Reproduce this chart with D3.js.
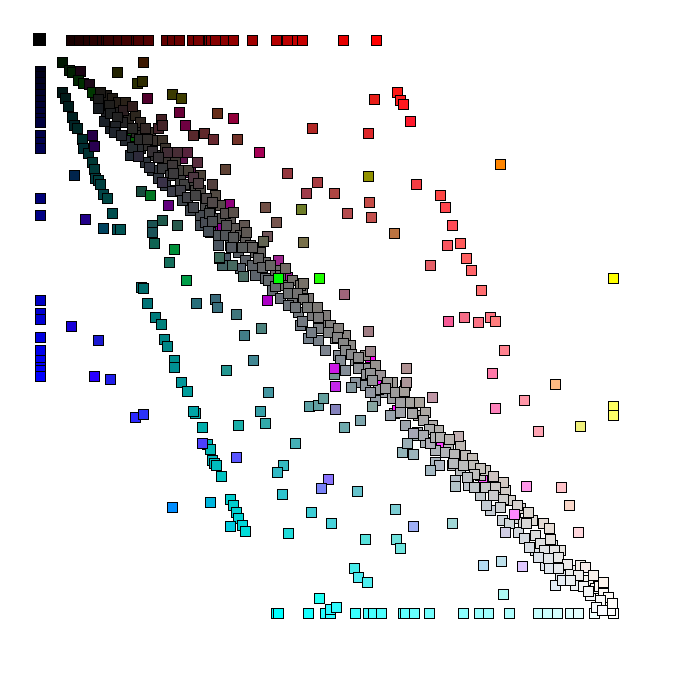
<!DOCTYPE html>
<html><head><meta charset="utf-8">
<script src="https://cdn.jsdelivr.net/npm/d3@7"></script>
<style>html,body{margin:0;padding:0;background:#fff}svg{display:block}</style>
</head><body><div id="chart"></div>
<script>
// Values. x and y are the two projected axes (0..573);
// green is the third colour channel of each square.
const blackX=[-2,0,-2,0], blackY=[-2,-2,0,0];
const topRowX=[31,39,48,54,62,66,68,78,86,96,98,108,126,132,139,152,158,169,171,175,185,193,212,236,247,257,262,303,336];
const leftColumnY=[31,36,42,48,54,60,66,72,78,82,95,102,108,158,175,260,273,279,297,310,320,327,330,336];
const bottomRowX=[236,238,268,285,290,315,328,333,341,363,365,374,389,423,439,448,469,498,507,517,530,538,554,573];

const strandX=[22,29,32,40,38,43,49,55,52, 22,25,28,32,34,37,42,43,48,52,54,55,58,60,63,67];
const strandY=[22,30,32,31,40,43,44,55,52, 52,58,66,77,85,88,99,108,113,122,129,138,140,144,154,158];
const strandG=[24,28,33,5,40,46,10,40,55, 24,27,30,34,36,40,45,46,51,56,58,59,62,64,67,72];

const tealX=[101,103,107,115,121,124,127,134,134,141,147,155,153,162,167,170,172,174,176,181,190,193,196,198,202,205];
const tealY=[247,248,263,277,284,299,306,320,327,342,351,373,371,387,404,409,420,423,425,436,459,465,472,478,485,491];
const tealG=[108,110,115,123,129,133,136,143,143,150,157,165,163,173,178,182,183,186,188,194,204,207,210,212,216,220];

const underX=[92,77,128,142,150,178,182,189,238,247,330,336,354,357,401,443,294];
const underY=[96,69,112,118,132,188,186,164,220,237,317,340,373,370,403,439,334];
const underG=[97,78,10,20,30,0,0,0,35,30,0,10,160,15,60,80,150];

const packX=[62,66,72,78,66,85,74,88,82,70,95,100,85,96,102,110,90,100,108,115,122,105,115,125,128,112,122,135,130,138,118,125,140,148,150,136,160,142,155,160,150,165,175,160,170,180,160,175,182,170,178,190,185,195,178,200,190,205,198,210,185,215,205,200,212,220,225,215,235,225,240,232,242,252,240,252,262,248,258,268,272,260,285,282,268,290,278,295,285,305,298,310,315,305,325,325,315,335,340,325,342,352,335,352,365,360,370,350,378,365,385,375,392,385,398,395,408,395,420,412,425,420,432,415,440,428,445,452,440,458,465,450,470,475,462,480,492,478,495,512,520,505,520,530,515,540,535,548,550,555,565,570];
const packY=[60,55,58,62,72,62,72,78,82,88,75,82,100,92,95,92,115,108,105,100,100,122,115,108,118,130,128,122,135,130,138,145,140,130,145,150,135,160,150,150,170,165,155,175,170,165,185,178,178,192,195,180,195,188,205,195,205,200,212,205,218,212,220,228,225,212,222,235,230,238,235,250,245,240,258,258,252,265,272,258,275,285,275,285,298,285,300,298,310,295,315,305,320,330,315,328,342,325,335,345,352,342,360,358,345,372,362,375,375,385,372,395,385,402,390,410,405,422,405,425,415,430,418,440,435,445,430,440,455,450,450,470,460,478,480,468,480,492,510,505,510,525,535,530,545,525,545,540,555,548,560,570];
const packG=[27,27,29,31,30,33,32,37,36,35,38,40,41,42,44,45,45,46,47,47,49,50,51,52,54,53,55,57,58,60,56,60,62,62,66,63,66,67,68,69,71,73,73,74,75,76,77,78,80,80,83,82,84,85,85,88,88,90,91,92,89,95,94,95,97,96,100,100,103,103,105,107,108,109,110,113,114,114,118,116,121,121,124,126,126,128,128,131,131,133,136,137,141,141,142,145,146,146,147,149,154,154,154,158,158,161,163,161,167,167,168,171,172,175,175,179,181,182,183,186,187,189,189,190,195,194,195,198,199,202,203,204,207,212,209,210,216,215,223,226,229,228,234,236,235,236,240,242,245,245,250,253];

const greyX=[60,58,58,69,64,70,83,92,77,75,74,81,92,105,118,121,122,92,99,107,127,137,147,98,112,118,109,132,133,122,132,144,153,158,157,172,140,147,153,155,166,172,165,168,169,172,185,186,193,193,191,204,206,202,212,227,223,218,222,230,245,182,179,192,228,235,260,263,248,248,257,263,255,267,277,278,262,278,271,288,298,297,303,305,311,300,318,318,326,330,347,338,330,332,345,355,360,364,372,379,383,377,373,389,383,390,395,400,418,409,405,414,413,423,399,433,440,434,427,453,463,434,445,455,446,453,463,460,477,488,469,483,486,495,503,509,484,510,500,489,504,514,498,508,518,527,509,518,545,538,553,522,530,543,548,559,563,563,568,560,572,556,562];
const greyY=[52,59,68,65,81,73,70,66,77,86,92,95,88,88,88,79,85,107,99,99,112,112,112,116,111,117,127,125,133,142,151,144,137,143,122,144,150,157,167,155,158,162,182,191,173,181,173,185,172,197,207,185,192,207,207,196,201,218,227,225,228,225,218,225,240,246,245,243,247,253,253,259,267,267,267,277,281,288,292,292,288,297,303,310,314,320,317,328,334,333,342,349,352,340,348,352,362,351,373,362,380,392,393,389,395,403,397,397,396,399,412,414,423,425,425,425,428,434,437,436,442,447,447,447,465,455,459,467,465,472,483,482,483,495,483,488,498,499,503,507,510,510,517,518,517,524,528,528,527,535,535,540,540,546,551,546,542,553,557,560,563,567,570];
const greyG=[25,26,28,30,32,32,30,30,34,35,36,38,40,40,35,33,35,45,44,45,45,45,35,42,47,50,50,55,58,50,60,64,55,62,45,65,62,66,70,68,70,72,76,80,76,78,78,82,80,87,88,85,88,92,93,85,100,97,100,102,105,100,100,105,105,108,112,113,110,112,113,116,116,119,121,123,120,126,125,129,130,132,135,137,139,138,141,143,146,147,153,152,150,149,154,157,160,159,165,165,169,170,165,173,172,174,176,177,175,179,181,184,186,189,182,191,193,193,192,195,200,196,198,200,202,201,205,206,209,213,212,214,215,220,218,221,218,224,223,221,225,227,225,228,230,233,230,232,235,238,241,236,238,242,244,245,245,248,250,249,252,250,251];

const oliveX=[103,77,97,102,132,141], oliveY=[22,32,43,41,54,58], oliveG=[24,34,46,44,58,62];
const wineX=[107,139,145,193,219], wineY=[58,72,85,78,112], wineG=[0,0,0,0,0];
const brownX=[177,153,164,173,197,185,247,277,266,294,329,307,331];
const brownY=[73,95,93,99,99,129,133,142,153,153,162,173,177];
const brownG=[45,40,40,40,50,65,55,60,60,70,75,75,80];
const redX=[357,360,363,370,334,328,272,376,400,405,412,407,420,426,431,390,441];
const redY=[52,60,64,81,59,93,88,144,155,167,185,205,203,218,230,225,250];
const redG=[25,25,25,25,30,40,40,60,70,70,75,85,90,97,100,95,110];
const goldX=[460,328,261,354,573,573,573,540,515];
const goldY=[124,136,169,193,238,366,375,386,344];
const goldG=[133,146,125,115,255,255,255,240,185];
const pinkX=[408,424,438,450,455,464,452,484,498,455,486,521,529,538,474];
const pinkY=[281,277,282,277,281,310,333,360,391,368,446,447,465,492,474];
const pinkG=[90,108,115,115,125,130,120,150,165,130,150,195,215,215,135];
const mutedX=[225,236,263,304,328,330,366,366,392,203];
const mutedY=[167,182,202,254,291,311,328,342,357,236];
const mutedG=[80,85,112,100,125,135,145,150,150,110];
const tealGreyX=[101,112,112,122,137,114,129,179,156,175,177,196,221,204,213,186,228,220,225,198,255,243,237,242,271,291,248,317,355,325,356,360,412,311,269,278,283,304,320,332,362,367,373,390,415];
const tealGreyY=[151,185,192,180,185,203,222,217,263,259,267,274,288,295,320,330,352,371,383,385,403,425,432,454,472,483,493,451,469,499,499,508,483,347,366,365,358,387,380,366,412,403,414,430,446];
const tealGreyG=[75,82,82,88,90,100,110,105,110,105,110,118,130,125,135,150,150,160,170,175,175,185,185,195,205,210,220,195,205,225,225,230,215,150,160,160,160,170,165,165,180,175,180,185,195];
const seaBlueX=[34,63,132,170,190,72,77,80];
const seaBlueY=[135,188,467,462,486,173,189,189];
const seaBlueG=[36,67,141,182,204,77,80,84];
const violetX=[52,54,128,45,31,58,54,70,95,103,162,196,227,294,295,295,288,281,373,482,465];
const violetY=[95,106,165,179,286,300,336,339,377,374,403,417,260,328,346,369,439,448,486,526,492];
const violetG=[0,0,0,0,0,25,0,30,40,50,65,85,0,25,40,130,115,130,175,200,205];
const cyanX=[279,290,296,314,318,327,443,461,463];
const cyanY=[558,569,567,528,537,542,525,521,554];
const cyanG=[255,250,250,235,235,240,220,225,250];
const greenX=[110,134,146,238,279], greenY=[155,209,240,238,238], greenG=[118,143,157,255,255];

const allX=[], allY=[], allG=[];
function add(xs,ys,gs){ xs.forEach((v,i)=>{allX.push(v);allY.push(ys[i]);allG.push(gs[i]);}); }
const rep=(a,v)=>a.map(()=>v);
add(blackX,blackY,rep(blackX,0));
add(topRowX,rep(topRowX,0),rep(topRowX,0));
add(rep(leftColumnY,0),leftColumnY,rep(leftColumnY,0));
add(bottomRowX,rep(bottomRowX,573),rep(bottomRowX,255));
add(strandX,strandY,strandG);
add(tealX,tealY,tealG);
add(underX,underY,underG);
add(packX,packY,packG);
add(greyX,greyY,greyG);
add(oliveX,oliveY,oliveG);
add(wineX,wineY,wineG);
add(brownX,brownY,brownG);
add(redX,redY,redG);
add(goldX,goldY,goldG);
add(pinkX,pinkY,pinkG);
add(mutedX,mutedY,mutedG);
add(tealGreyX,tealGreyY,tealGreyG);
add(seaBlueX,seaBlueY,seaBlueG);
add(violetX,violetY,violetG);
add(cyanX,cyanY,cyanG);
add(greenX,greenY,greenG);

const x=d3.scaleLinear().domain([0,573]).range([40,613]);
const y=d3.scaleLinear().domain([0,573]).range([40,613]);
// Position = 0.933*green + 1.318*(red or blue); colour follows from it.
const channel=d3.scaleLinear().domain([0,336]).range([0,255]).clamp(true);
const greenShare=238/255;
const colour=i=>d3.rgb(
  channel(allX[i]-greenShare*allG[i]),
  allG[i],
  channel(allY[i]-greenShare*allG[i])).formatHex();

const svg=d3.select('#chart').append('svg').attr('width',700).attr('height',700);
svg.append('rect').attr('width',700).attr('height',700).attr('fill','#fff');
svg.append('g').selectAll('rect').data(d3.range(allX.length)).join('rect')
  .attr('x',i=>Math.round(x(allX[i]))-4.5)
  .attr('y',i=>Math.round(y(allY[i]))-4.5)
  .attr('width',10).attr('height',10)
  .attr('fill',colour)
  .attr('stroke','#000').attr('stroke-width',1)
  .attr('shape-rendering','crispEdges');
</script></body></html>
